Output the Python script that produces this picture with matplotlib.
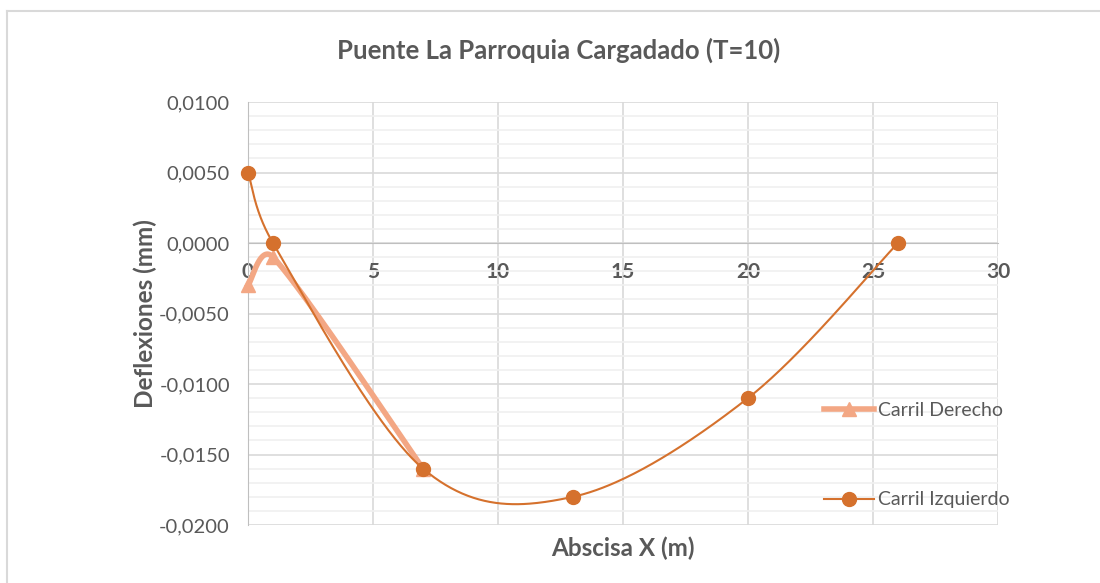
import numpy as np
import matplotlib.pyplot as plt
from matplotlib.lines import Line2D
from matplotlib.ticker import FuncFormatter, MultipleLocator

# data
x_derecho = [0, 1, 7]
y_derecho = [-0.003, -0.001, -0.016]
x_izquierdo = [0, 1, 7, 13, 20, 26]
y_izquierdo = [0.005, 0.0, -0.016, -0.018, -0.011, 0.0]

title = "Puente La Parroquia Cargadado (T=10)"
x_label = "Abscisa X (m)"
y_label = "Deflexiones (mm)"

# pixel scale of the plot area (so the smoothing behaves like Excel's)
SX, SY = 25.0, 14100.0


def smooth(xs, ys, n=80):
    """Excel-like smoothed line: Bezier segments, control arms capped at half the segment."""
    p = np.column_stack([np.array(xs) * SX, np.array(ys) * SY]).astype(float)
    out = []
    for i in range(len(p) - 1):
        p0 = p[i - 1] if i > 0 else p[i]
        p1, p2 = p[i], p[i + 1]
        p3 = p[i + 2] if i + 2 < len(p) else p[i + 1]
        d12 = np.hypot(*(p2 - p1))
        d02 = np.hypot(*(p2 - p0))
        d13 = np.hypot(*(p3 - p1))
        f1 = 1 / 6 if d02 / 6 < d12 / 2 else d12 / (2 * d02)
        f2 = 1 / 6 if d13 / 6 < d12 / 2 else d12 / (2 * d13)
        c1 = p1 + (p2 - p0) * f1
        c2 = p2 - (p3 - p1) * f2
        t = np.linspace(0, 1, n)[:, None]
        seg = ((1 - t) ** 3) * p1 + 3 * ((1 - t) ** 2) * t * c1 + 3 * (1 - t) * t ** 2 * c2 + t ** 3 * p2
        out.append(seg)
    out = np.vstack(out)
    return out[:, 0] / SX, out[:, 1] / SY


plt.rcParams['font.family'] = ['Lato', 'DejaVu Sans']
grey = '#595959'
c_der = '#F3A784'
c_izq = '#D5712D'

fig = plt.figure(figsize=(11, 5.83), dpi=100)
ax = fig.add_axes([248 / 1100, 1 - 525 / 583, 750 / 1100, 423 / 583])

# chart border (only left and top visible)
fig.add_artist(Line2D([7 / 1100, 7 / 1100], [0, 1 - 11 / 583], transform=fig.transFigure,
                      color='#D9D9D9', linewidth=1.5))
fig.add_artist(Line2D([7 / 1100, 1], [1 - 11 / 583, 1 - 11 / 583], transform=fig.transFigure,
                      color='#D9D9D9', linewidth=1.5))

sx, sy = smooth(x_derecho, y_derecho)
ax.plot(sx, sy, color=c_der, linewidth=4, zorder=3, clip_on=False)
ax.plot(x_derecho, y_derecho, linestyle='none', marker='^', markersize=10,
        color=c_der, zorder=4, clip_on=False)
sx, sy = smooth(x_izquierdo, y_izquierdo)
ax.plot(sx, sy, color=c_izq, linewidth=1.5, zorder=5, clip_on=False)
ax.plot(x_izquierdo, y_izquierdo, linestyle='none', marker='o', markersize=10,
        color=c_izq, zorder=6, clip_on=False)

ax.set_xlim(0, 30)
ax.set_ylim(-0.02, 0.01)
ax.xaxis.set_major_locator(MultipleLocator(5))
ax.yaxis.set_major_locator(MultipleLocator(0.005))
ax.yaxis.set_minor_locator(MultipleLocator(0.001))
ax.yaxis.set_major_formatter(FuncFormatter(lambda v, p: f"{v:.4f}".replace('.', ',').replace('-0,0000', '0,0000')))
ax.grid(which='major', color='#D9D9D9', linewidth=1.2)
ax.grid(which='minor', axis='y', color='#F0F0F0', linewidth=1.2)
ax.set_axisbelow(True)

for s in ['top', 'right']:
    ax.spines[s].set_visible(False)
ax.spines['left'].set_color('#BFBFBF')
ax.spines['bottom'].set_color('#BFBFBF')
ax.spines['bottom'].set_position(('data', 0))
ax.tick_params(axis='both', which='both', length=0, colors=grey)
ax.tick_params(axis='x', pad=14, labelsize=15)
ax.tick_params(axis='y', pad=13, labelsize=14.5)
for lab in ax.get_xticklabels():
    lab.set_fontweight('bold')

fig.text(559 / 1100, 1 - 50 / 583, title, ha='center', va='center', fontsize=18.5,
         fontweight='bold', color=grey)
fig.text(623 / 1100, 1 - 548 / 583, x_label, ha='center', va='center',
         fontsize=17.5, fontweight='bold', color=grey)
fig.text(145 / 1100, 1 - 314 / 583, y_label, ha='center', va='center',
         rotation=90, fontsize=17.5, fontweight='bold', color=grey)

h1, = ax.plot([], [], color=c_der, linewidth=4, marker='^', markersize=10)
h2, = ax.plot([], [], color=c_izq, linewidth=1.5, marker='o', markersize=10)
leg = fig.legend([h1, h2], ['Carril Derecho', 'Carril Izquierdo'],
                 loc='center left', bbox_to_anchor=(814 / 1100, 1 - 455 / 583),
                 frameon=False, fontsize=14, labelspacing=3.75,
                 handlelength=2.6, handletextpad=0.2, borderpad=0)
for t in leg.get_texts():
    t.set_color(grey)

fig.savefig('out.png', dpi=100)
